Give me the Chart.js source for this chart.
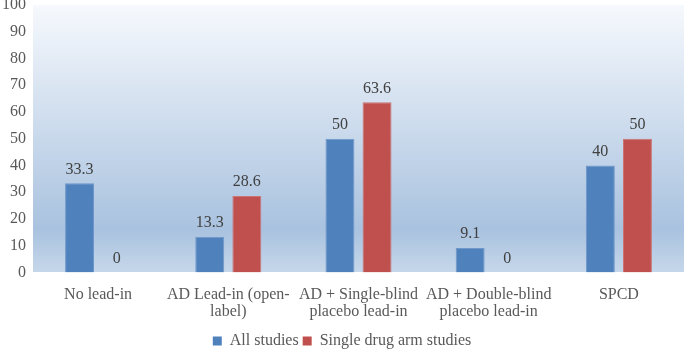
<!DOCTYPE html>
<html>
<head>
<meta charset="utf-8">
<script src="https://cdn.jsdelivr.net/npm/chart.js@4/dist/chart.umd.min.js"></script>
<style>
html,body{margin:0;padding:0;background:#fff;}
#wrap{width:685px;height:349px;position:relative;}
</style>
</head>
<body>
<div id="wrap"><canvas id="c"></canvas></div>
<script>
const categories = [
  ['No lead-in'],
  ['AD Lead-in (open-', 'label)'],
  ['AD + Single-blind', 'placebo lead-in'],
  ['AD + Double-blind', 'placebo lead-in'],
  ['SPCD']
];
const seriesNames = ['All studies', 'Single drug arm studies'];
const allStudies = [33.3, 13.3, 50, 9.1, 40];
const singleDrugArm = [0, 28.6, 63.6, 0, 50];
const yTicks = [0, 10, 20, 30, 40, 50, 60, 70, 80, 90, 100];

const FONT = "'Liberation Serif', 'Times New Roman', serif";
const TEXT = '#595959';

const bgPlugin = {
  id: 'bg',
  beforeDraw(chart) {
    const {ctx, chartArea: a} = chart;
    const g = ctx.createLinearGradient(0, a.top, 0, a.bottom);
    g.addColorStop(0, '#f6f9fd');
    g.addColorStop(0.84, '#a9c2df');
    g.addColorStop(1, '#c6d7ea');
    ctx.save();
    ctx.fillStyle = g;
    ctx.fillRect(a.left, a.top, a.right - a.left, a.bottom - a.top);
    ctx.restore();
  }
};

const labelPlugin = {
  id: 'vals',
  afterDatasetsDraw(chart) {
    const ctx = chart.ctx;
    ctx.save();
    ctx.font = '16px ' + FONT;
    ctx.fillStyle = '#404040';
    ctx.textAlign = 'center';
    ctx.textBaseline = 'bottom';
    chart.data.datasets.forEach((ds, i) => {
      const meta = chart.getDatasetMeta(i);
      meta.data.forEach((el, j) => {
        ctx.fillText(String(ds.data[j]), el.x, el.y - 6);
      });
    });
    ctx.restore();
  }
};

new Chart(document.getElementById('c'), {
  type: 'bar',
  data: {
    labels: categories,
    datasets: [
      {label: seriesNames[0], data: allStudies, backgroundColor: '#4f81bd', borderColor: '#6f97c9', borderWidth: 1},
      {label: seriesNames[1], data: singleDrugArm, backgroundColor: '#c0504d', borderColor: '#cc7472', borderWidth: 1}
    ]
  },
  options: {
    responsive: true,
    maintainAspectRatio: false,
    animation: false,
    layout: {padding: {top: 5, right: 1, left: 0, bottom: -10}},
    datasets: {bar: {categoryPercentage: 0.57, barPercentage: 0.78}},
    plugins: {
      legend: {
        position: 'bottom',
        labels: {
          boxWidth: 9, boxHeight: 9, padding: 4,
          color: TEXT,
          font: {family: FONT, size: 16},
          generateLabels(chart) {
            return chart.data.datasets.map((d, i) => ({
              text: d.label, fillStyle: d.backgroundColor, strokeStyle: d.backgroundColor,
              lineWidth: 0, datasetIndex: i, fontColor: TEXT
            }));
          }
        }
      },
      tooltip: {enabled: false}
    },
    scales: {
      x: {
        grid: {display: false, drawTicks: false},
        border: {display: true, color: '#ffffff'},
        afterFit(scale) { scale.height -= 5; },
        ticks: {color: TEXT, font: {family: FONT, size: 16, lineHeight: 1.05}, padding: 14, maxRotation: 0, autoSkip: false}
      },
      y: {
        min: 0, max: 100,
        afterBuildTicks(scale) { scale.ticks = yTicks.map(v => ({value: v})); },
        afterFit(scale) { scale.paddingTop = 0; scale.paddingBottom = 0; scale.width = 33; },
        grid: {display: false, drawTicks: false},
        border: {display: false},
        ticks: {color: TEXT, font: {family: FONT, size: 16}, padding: 7}
      }
    }
  },
  plugins: [bgPlugin, labelPlugin]
});
</script>
</body>
</html>
